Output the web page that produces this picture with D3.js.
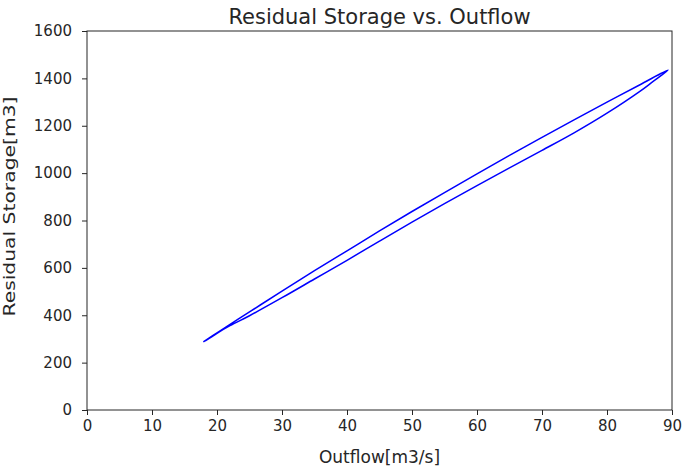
<!DOCTYPE html>
<html>
<head>
<meta charset="utf-8">
<script src="https://cdn.jsdelivr.net/npm/d3@7"></script>
<style>
  html, body { margin: 0; padding: 0; background: #fff; }
  svg { display: block; }
  text { font-family: "DejaVu Sans", sans-serif; fill: #262626; }
</style>
</head>
<body>
<svg id="chart" width="685" height="471"></svg>
<script>
// Loop: rising branch (upper) then falling branch (lower)
const outflowUp   = [17.9, 20, 25, 30, 35, 40, 45, 50, 55, 60, 65, 70, 75, 80, 85, 89.4];
const storageUp   = [288, 326, 414, 502, 588, 672, 756, 838, 918, 997, 1075, 1151, 1226, 1300, 1372, 1435];
const outflowDown = [89.4, 87, 85, 80, 75, 70, 65, 60, 55, 50, 45, 40, 35, 30, 25, 22, 20, 18.2];
const storageDown = [1435, 1385, 1344, 1253, 1171, 1096, 1022, 947, 871, 793, 713, 632, 553, 474, 398, 356, 324, 292];
const xTicks = [0, 10, 20, 30, 40, 50, 60, 70, 80, 90];
const yTicks = [0, 200, 400, 600, 800, 1000, 1200, 1400, 1600];

const title = "Residual Storage vs. Outflow";
const xLabel = "Outflow[m3/s]";
const yLabel = "Residual Storage[m3]";

const svg = d3.select("#chart");
const m = { left: 87, right: 672, top: 31, bottom: 410 };

const x = d3.scaleLinear().domain([0, 90]).range([m.left, m.right]);
const y = d3.scaleLinear().domain([0, 1600]).range([m.bottom, m.top]);

const pts = outflowUp.map((v, i) => [v, storageUp[i]])
  .concat(outflowDown.slice(1).map((v, i) => [v, storageDown[i + 1]]));

const line = d3.line().x(d => x(d[0])).y(d => y(d[1])).curve(d3.curveCatmullRom.alpha(0.5));

svg.append("path")
  .datum(pts)
  .attr("d", line)
  .attr("fill", "none").attr("stroke", "#0000ff").attr("stroke-width", 1.5)
  .attr("stroke-linejoin", "round");

// axes
const xAxis = d3.axisBottom(x).tickValues(xTicks).tickSize(5).tickPadding(5).tickFormat(d3.format("d"));
const yAxis = d3.axisLeft(y).tickValues(yTicks).tickSize(5).tickPadding(10).tickFormat(d3.format("d"));

const gx = svg.append("g").attr("transform", `translate(0,${m.bottom})`).call(xAxis);
const gy = svg.append("g").attr("transform", `translate(${m.left},0)`).call(yAxis);
[gx, gy].forEach(g => {
  g.select(".domain").remove();
  g.selectAll(".tick line").attr("stroke", "#262626").attr("stroke-width", 1);
  g.selectAll(".tick text").style("font-family", "DejaVu Sans, sans-serif").style("font-size", "15px").attr("fill", "#262626");
});

// frame
svg.append("rect")
  .attr("x", m.left).attr("y", m.top)
  .attr("width", m.right - m.left).attr("height", m.bottom - m.top)
  .attr("fill", "none").attr("stroke", "#262626").attr("stroke-width", 1);

svg.append("text").attr("x", 379.5).attr("y", 24)
  .attr("text-anchor", "middle").style("font-size", "21px").text(title);
svg.append("text").attr("x", 379.5).attr("y", 463)
  .attr("text-anchor", "middle").style("font-size", "17px").text(xLabel);
svg.append("text").attr("transform", `translate(15,${206.5}) rotate(-90)`)
  .attr("text-anchor", "middle").style("font-size", "15px")
  .attr("textLength", 220).attr("lengthAdjust", "spacingAndGlyphs").text(yLabel);
</script>
</body>
</html>
